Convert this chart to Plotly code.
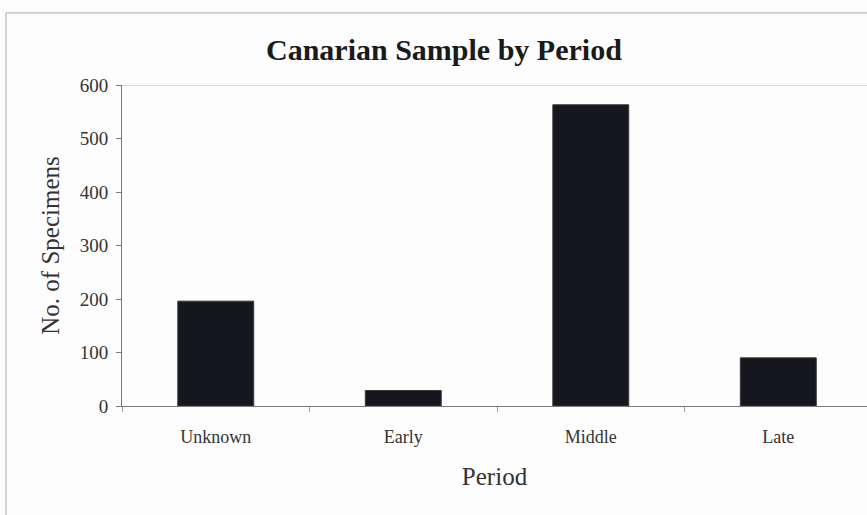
import plotly.graph_objects as go

# Specimen counts per period
periods = ["Unknown", "Early", "Middle", "Late"]
specimens = [196, 29, 563, 90]
y_ticks = [0, 100, 200, 300, 400, 500, 600]

FONT = "Liberation Serif, Times New Roman, serif"

fig = go.Figure(
    go.Bar(
        x=periods,
        y=specimens,
        marker=dict(color="#16161f", line=dict(color="#3a3a40", width=1)),
        width=0.405,
    )
)

fig.update_layout(
    width=867,
    height=515,
    margin=dict(l=122, r=0, t=85, b=109),
    paper_bgcolor="#fdfdfd",
    plot_bgcolor="#fdfdfd",
    showlegend=False,
    font=dict(family=FONT, color="#222222"),
    title=dict(
        text="<b>Canarian Sample by Period</b>",
        x=0.512,
        xanchor="center",
        y=0.903,
        yanchor="middle",
        font=dict(family=FONT, size=30, color="#1a1a1a"),
    ),
    xaxis=dict(
        type="category",
        range=[-0.5, 3.473],
        showline=True,
        linecolor="#7a7a7a",
        linewidth=1,
        ticks="outside",
        tickson="boundaries",
        ticklen=5,
        tickcolor="#9a9a9a",
        showgrid=False,
        ticklabelstandoff=14,
        tickfont=dict(family=FONT, size=18, color="#333333"),
        title=dict(text="Period", font=dict(family=FONT, size=25, color="#333333"), standoff=21),
    ),
    yaxis=dict(
        range=[0, 600],
        tickvals=y_ticks,
        showline=True,
        linecolor="#7a7a7a",
        linewidth=1,
        ticks="outside",
        ticklen=5,
        tickcolor="#7a7a7a",
        showgrid=False,
        zeroline=False,
        ticklabelstandoff=4,
        tickfont=dict(family=FONT, size=19, color="#333333"),
        title=dict(text="No. of Specimens", font=dict(family=FONT, size=25, color="#333333"), standoff=12),
    ),
    shapes=[
        # top edge of the plot area
        dict(type="line", xref="paper", yref="y", x0=0, x1=1, y0=600, y1=600,
             line=dict(color="#b5b5b5", width=1)),
        # outer chart frame (top and left edges)
        dict(type="line", xref="paper", yref="paper", x0=-0.1557, x1=1.05, y0=1.2245, y1=1.2245,
             line=dict(color="#a8a8a8", width=1)),
        dict(type="line", xref="paper", yref="paper", x0=-0.1557, x1=-0.1557, y0=1.2245, y1=-0.4,
             line=dict(color="#a8a8a8", width=1)),
    ],
)

fig.write_html("out.html")
